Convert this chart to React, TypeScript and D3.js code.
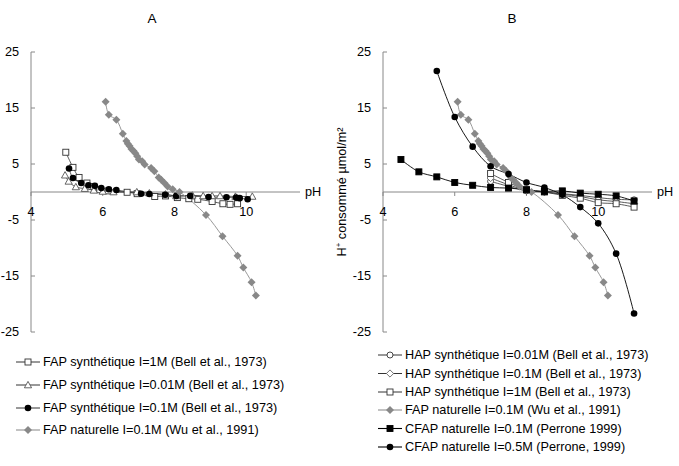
import { useEffect, useRef } from 'react';
import * as d3 from 'd3';

// FAP naturelle I=0.1M (Wu et al., 1991) - used in both panels
const phWu = [6.08, 6.17, 6.38, 6.56, 6.66, 6.7, 6.75, 6.8, 6.86, 6.91, 6.96, 7.01, 7.1, 7.17, 7.35, 7.44, 7.56, 7.63, 7.72, 7.81, 7.95, 8.14, 8.88, 9.34, 9.76, 9.92, 10.15, 10.27];
const hWu = [16.1, 13.8, 12.9, 10.4, 9.1, 8.6, 8.2, 7.7, 7.3, 6.9, 6.4, 5.8, 5.5, 4.9, 4.3, 3.7, 2.6, 2.2, 1.6, 1.0, 0.5, 0.0, -4.1, -7.9, -11.4, -13.5, -16.1, -18.5];

// panel A
const phFap1M = [4.97, 5.17, 5.34, 5.56, 5.75, 5.92, 6.15, 6.68, 6.96, 7.45, 7.75, 8.08, 8.4, 8.65, 9.05, 9.35, 9.55, 9.76];
const hFap1M = [7.1, 4.4, 2.6, 1.6, 1.0, 0.4, 0.2, -0.05, -0.3, -0.8, -0.7, -1.0, -1.2, -1.3, -1.7, -2.1, -2.2, -2.1];
const phFap001 = [4.95, 5.05, 5.25, 5.5, 5.75, 6.0, 6.3, 6.95, 7.3, 7.75, 8.05, 8.5, 8.8, 9.05, 9.27, 9.7, 10.17];
const hFap001 = [3.0, 1.9, 0.9, 0.6, 0.3, 0.1, 0.0, 0.0, -0.2, -0.4, -0.7, -0.6, -0.7, -0.7, -0.7, -0.8, -0.8];
const phFap01 = [5.06, 5.17, 5.4, 5.6, 5.78, 5.96, 6.17, 6.38, 7.07, 7.3, 7.74, 8.05, 8.44, 8.95, 9.45, 9.72, 9.82, 10.04];
const hFap01 = [4.2, 2.5, 1.6, 1.2, 1.1, 0.7, 0.5, 0.35, -0.3, -0.35, -0.5, -0.7, -0.7, -0.9, -0.95, -1.0, -1.1, -1.3];

// panel B
const phHap = [7, 7.5, 8, 8.5, 9, 9.5, 10, 10.5, 11];
const hHap001 = [1.9, 1.0, 0.2, 0.0, -0.3, -0.6, -1.0, -1.3, -1.4];
const hHap01 = [2.5, 1.3, 0.3, 0.0, -0.4, -0.8, -1.4, -1.7, -2.1];
const hHap1M = [3.3, 1.7, 0.4, 0.0, -0.6, -1.1, -1.9, -2.1, -2.7];
const phCfap01 = [4.5, 5, 5.5, 6, 6.5, 7, 7.5, 8, 8.5, 9, 9.5, 10, 10.5, 11];
const hCfap01 = [5.8, 3.6, 2.7, 1.7, 1.2, 0.8, 0.7, 0.4, 0.1, 0.2, -0.2, -0.4, -0.7, -1.6];
const phCfap05 = [5.5, 6, 6.5, 7, 7.5, 8, 8.5, 9, 9.5, 10, 10.5, 11];
const hCfap05 = [21.6, 13.4, 8.1, 4.6, 3.2, 1.7, 0.8, -0.5, -2.7, -5.6, -11.0, -21.7];

const xTicks = [4, 6, 8, 10];
const yTicks = [25, 15, 5, -5, -15, -25];

const FONT = 'Liberation Sans, Arial, sans-serif';
const FS = 12.7;

type Marker = 'sq' | 'sqf' | 'tri' | 'dot' | 'circ' | 'dia' | 'diaOpen';
type Series = { label: string; x: number[]; y: number[]; marker: Marker; line: string; lw: number };

const seriesA: Series[] = [
  { label: 'FAP synthétique I=1M (Bell et al., 1973)', x: phFap1M, y: hFap1M, marker: 'sq', line: '#333', lw: 0.8 },
  { label: 'FAP synthétique I=0.01M (Bell et al., 1973)', x: phFap001, y: hFap001, marker: 'tri', line: '#333', lw: 0.8 },
  { label: 'FAP synthétique I=0.1M (Bell et al., 1973)', x: phFap01, y: hFap01, marker: 'dot', line: '#333', lw: 0.8 },
  { label: 'FAP naturelle I=0.1M (Wu et al., 1991)', x: phWu, y: hWu, marker: 'dia', line: '#999', lw: 1 },
];

const seriesB: Series[] = [
  { label: 'HAP synthétique I=0.01M (Bell et al., 1973)', x: phHap, y: hHap001, marker: 'circ', line: '#333', lw: 0.8 },
  { label: 'HAP synthétique I=0.1M (Bell et al., 1973)', x: phHap, y: hHap01, marker: 'diaOpen', line: '#333', lw: 0.8 },
  { label: 'HAP synthétique I=1M (Bell et al., 1973)', x: phHap, y: hHap1M, marker: 'sq', line: '#333', lw: 0.8 },
  { label: 'FAP naturelle I=0.1M (Wu et al., 1991)', x: phWu, y: hWu, marker: 'dia', line: '#999', lw: 1 },
  { label: 'CFAP naturelle I=0.1M (Perrone 1999)', x: phCfap01, y: hCfap01, marker: 'sqf', line: '#000', lw: 0.9 },
  { label: 'CFAP naturelle I=0.5M (Perrone, 1999)', x: phCfap05, y: hCfap05, marker: 'dot', line: '#000', lw: 0.9 },
];

function drawMarker(g: any, type: Marker, cx: number, cy: number) {
  if (type === 'sq' || type === 'sqf') {
    g.append('rect').attr('x', cx - 3).attr('y', cy - 3).attr('width', 6).attr('height', 6)
      .attr('fill', type === 'sq' ? '#fff' : '#000').attr('stroke', type === 'sq' ? '#333' : '#000').attr('stroke-width', 0.9);
  } else if (type === 'tri') {
    g.append('path').attr('d', `M${cx},${cy - 3.6}L${cx + 3.6},${cy + 2.8}L${cx - 3.6},${cy + 2.8}Z`)
      .attr('fill', '#fff').attr('stroke', '#555').attr('stroke-width', 0.9);
  } else if (type === 'dot') {
    g.append('circle').attr('cx', cx).attr('cy', cy).attr('r', 3.3).attr('fill', '#000');
  } else if (type === 'circ') {
    g.append('circle').attr('cx', cx).attr('cy', cy).attr('r', 3).attr('fill', '#fff').attr('stroke', '#333').attr('stroke-width', 0.9);
  } else if (type === 'dia') {
    g.append('path').attr('d', `M${cx},${cy - 4}L${cx + 4},${cy}L${cx},${cy + 4}L${cx - 4},${cy}Z`).attr('fill', '#888');
  } else {
    g.append('path').attr('d', `M${cx},${cy - 3.6}L${cx + 3.6},${cy}L${cx},${cy + 3.6}L${cx - 3.6},${cy}Z`)
      .attr('fill', '#fff').attr('stroke', '#666').attr('stroke-width', 0.9);
  }
}

function drawPanel(svg: any, opts: { x0: number; title: string; titleX: number; series: Series[]; legX: number; legY: number[]; ylabX?: number }) {
  const x = d3.scaleLinear().domain([4, 11.5]).range([opts.x0, opts.x0 + 269]);
  const y = d3.scaleLinear().domain([-25, 25]).range([332, 52]);
  const g = svg.append('g');

  g.append('text').attr('x', opts.titleX).attr('y', 23).attr('text-anchor', 'middle')
    .attr('font-size', 13.5).attr('font-family', FONT).text(opts.title);

  // axes
  g.append('line').attr('x1', x(4)).attr('x2', x(4)).attr('y1', y(25)).attr('y2', y(-25)).attr('stroke', '#888');
  yTicks.forEach(t => {
    g.append('line').attr('x1', x(4)).attr('x2', x(4) + 4).attr('y1', y(t)).attr('y2', y(t)).attr('stroke', '#888');
    g.append('text').attr('x', x(4) - 12).attr('y', y(t)).attr('dy', '0.35em').attr('text-anchor', 'end')
      .attr('font-size', FS).attr('font-family', FONT).text(t);
  });
  g.append('line').attr('x1', x(4)).attr('x2', x(11.5)).attr('y1', y(0)).attr('y2', y(0)).attr('stroke', '#888');
  xTicks.forEach(t => {
    g.append('line').attr('x1', x(t)).attr('x2', x(t)).attr('y1', y(0)).attr('y2', y(0) + 4).attr('stroke', '#888');
    g.append('text').attr('x', x(t)).attr('y', y(0) + 24).attr('text-anchor', 'middle')
      .attr('font-size', FS).attr('font-family', FONT).text(t);
  });
  g.append('text').attr('x', x(11.5) + 5).attr('y', y(0) + 4).attr('font-size', FS).attr('font-family', FONT).text('pH');

  if (opts.ylabX !== undefined) {
    const yl = g.append('text').attr('transform', `translate(${opts.ylabX},${y(0)}) rotate(-90)`)
      .attr('text-anchor', 'middle').attr('font-size', FS).attr('font-family', FONT);
    yl.append('tspan').text('H');
    yl.append('tspan').attr('dy', -5).attr('font-size', 8).text('+');
    yl.append('tspan').attr('dy', 5).text(' consommé µmol/m²');
  }

  const line = d3.line<[number, number]>().curve(d3.curveCatmullRom.alpha(0.5));
  opts.series.forEach(s => {
    const pts = s.x.map((v, i) => [x(v), y(s.y[i])] as [number, number]);
    g.append('path').attr('d', line(pts))
      .attr('fill', 'none').attr('stroke', s.line).attr('stroke-width', s.lw);
  });
  opts.series.forEach(s => {
    s.x.forEach((v, i) => drawMarker(g, s.marker, x(v), y(s.y[i])));
  });

  // legend
  opts.series.forEach((s, i) => {
    const ly = opts.legY[i];
    g.append('line').attr('x1', opts.legX).attr('x2', opts.legX + 24).attr('y1', ly).attr('y2', ly)
      .attr('stroke', s.line).attr('stroke-width', s.lw + 0.2);
    drawMarker(g, s.marker, opts.legX + 12, ly);
    g.append('text').attr('x', opts.legX + 27).attr('y', ly).attr('dy', '0.35em')
      .attr('font-size', FS).attr('font-family', FONT).text(s.label);
  });
}

export default function App() {
  const ref = useRef<SVGSVGElement>(null);

  useEffect(() => {
    const svg = d3.select(ref.current);
    svg.selectAll('*').remove();
    svg.append('rect').attr('width', 679).attr('height', 466).attr('fill', '#fff');
    drawPanel(svg, { x0: 31, title: 'A', titleX: 152, series: seriesA, legX: 16, legY: [362, 385, 408, 430] });
    drawPanel(svg, { x0: 383, title: 'B', titleX: 512, series: seriesB, legX: 378, legY: [355, 373.5, 392, 410, 428.5, 447], ylabX: 346 });
  }, []);

  return (
    <svg ref={ref} width={679} height={466} style={{ position: 'absolute', left: 0, top: 0 }}></svg>
  );
}
